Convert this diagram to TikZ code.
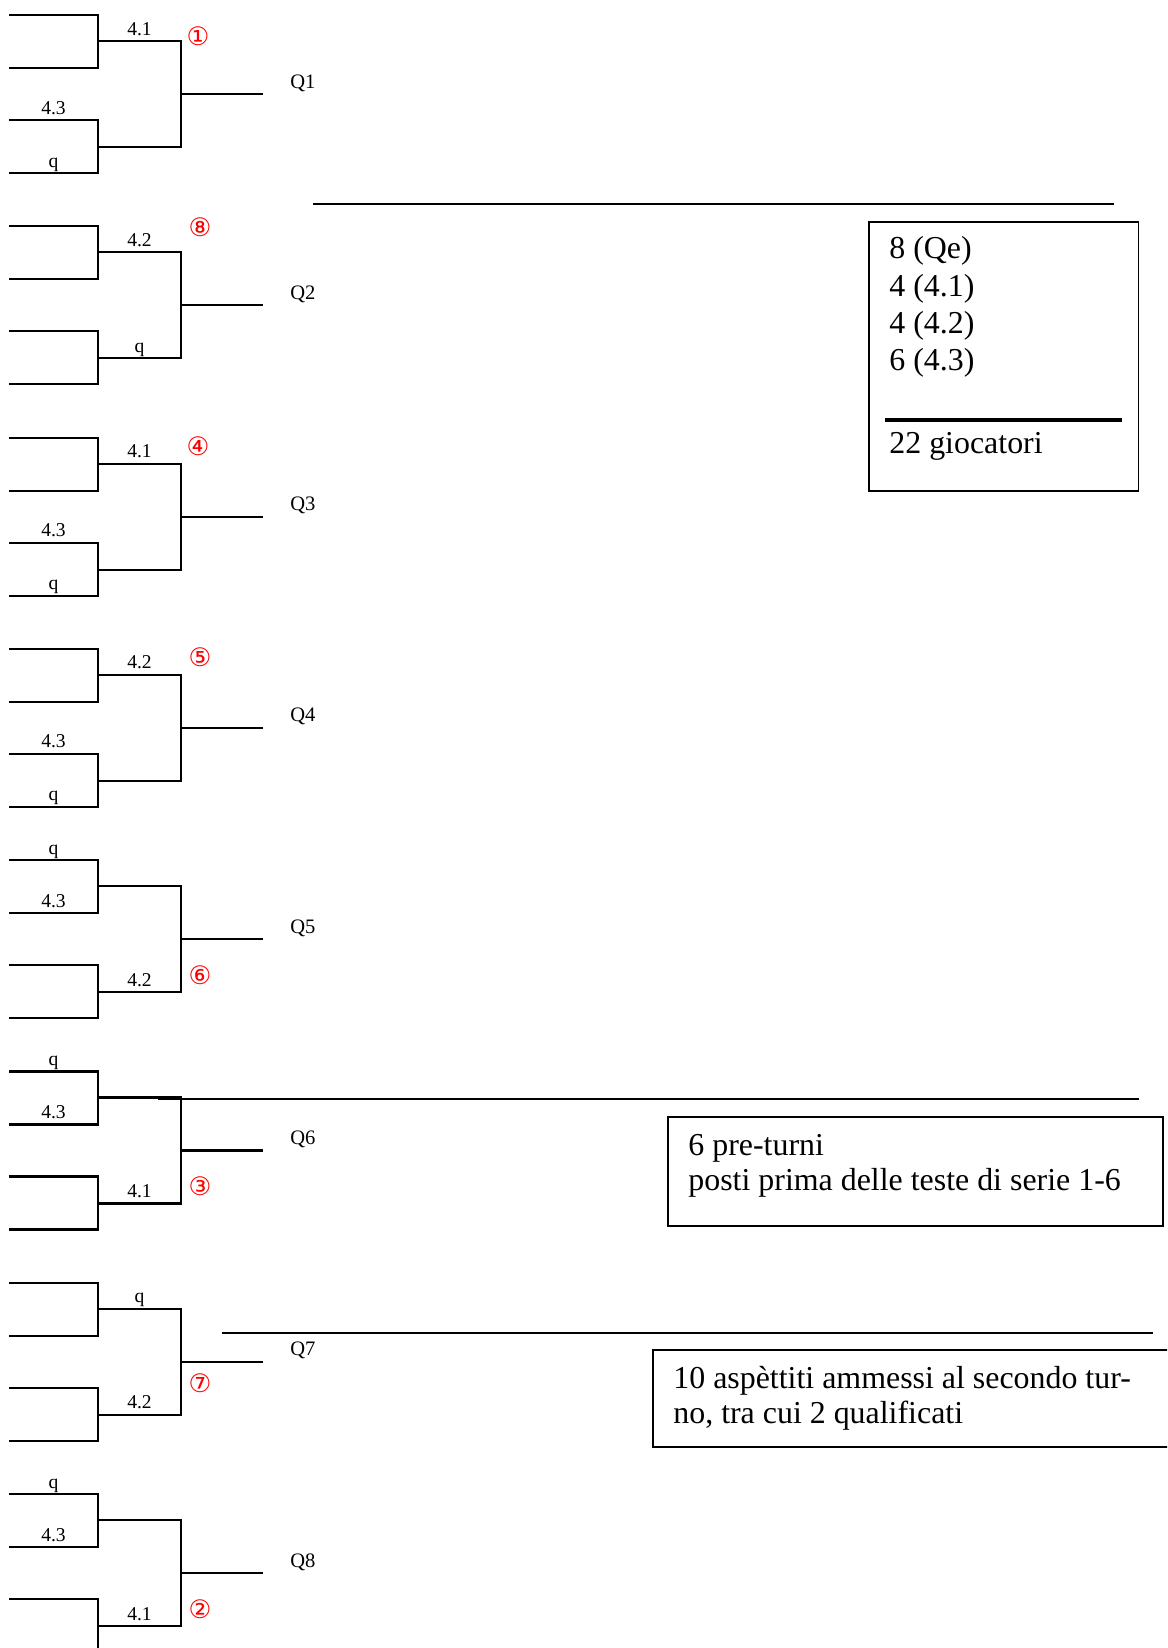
\documentclass[tikz,border=0pt]{standalone}
\usepackage{fontspec}
\setmainfont{Liberation Serif}
\newfontfamily\circfont{DejaVu Sans}
\usetikzlibrary{positioning}

\begin{document}
\begin{tikzpicture}[x=0.5109pt, y=-0.5109pt]
    \tikzstyle{wire}=[line width=1.1pt]
    \tikzstyle{seed}=[font=\fontsize{10}{11}\selectfont, inner sep=0pt, anchor=base]
    \tikzstyle{qual}=[font=\fontsize{10.5}{12}\selectfont, inner sep=0pt, anchor=base west]
    \tikzstyle{seedno}=[font=\circfont\fontsize{13}{14}\selectfont, text=red, inner sep=0pt]
    \tikzstyle{note}=[draw, line width=0.8pt, anchor=north west, inner sep=0pt]
    \tikzstyle{notetext}=[font=\fontsize{16.3}{18.9}\selectfont, inner sep=0pt, anchor=base west]

    \clip (0,0) rectangle (1167,1648);

    \foreach \g [evaluate=\g as \y using 94+(\g-1)*211.3] in {1,...,8} {
        \coordinate (m\g) at (181,\y);
        \draw[wire] (9,{\y-79}) -| (98,{\y-26}) -- (9,{\y-26});
        \draw[wire] (9,{\y+26}) -| (98,{\y+79}) -- (9,{\y+79});
        \draw[wire] (98,{\y-53}) -| (181,{\y+53}) -- (98,{\y+53});
        \draw[wire] (m\g) -- (263,\y);
        \node[qual] (Q\g) at (290,{\y-6}) {Q\g};
        \coordinate (up\g) at (139.5,{\y-59});
        \coordinate (dn\g) at (139.5,{\y+47});
        \coordinate (ea\g) at (53.5,{\y-85});
        \coordinate (eb\g) at (53.5,{\y-32});
        \coordinate (ec\g) at (53.5,{\y+20});
        \coordinate (ed\g) at (53.5,{\y+73});
    }

    \foreach \at/\txt in {up1/4.1, ec1/4.3, ed1/q, up2/4.2, dn2/q, up3/4.1, ec3/4.3, ed3/q,
            up4/4.2, ec4/4.3, ed4/q, ea5/q, eb5/4.3, dn5/4.2, ea6/q, eb6/4.3, dn6/4.1,
            up7/q, dn7/4.2, ea8/q, eb8/4.3, dn8/4.1}
        \node[seed] (lbl-\at) at (\at) {\txt};

    \node[seedno] (n1) at (198,36) {①};
    \node[seedno] (n8) at (200,227) {⑧};
    \node[seedno] (n4) at (198,446) {④};
    \node[seedno] (n5) at (200,657) {⑤};
    \node[seedno] (n6) at (200,975) {⑥};
    \node[seedno] (n3) at (200,1186) {③};
    \node[seedno] (n7) at (200,1383) {⑦};
    \node[seedno] (n2) at (200,1609) {②};

    \draw[wire] (313,204) -- (1114,204);
    \draw[wire] (158,1099) -- (1139,1099);
    \draw[wire] (222,1333) -- (1153,1333);

    \node[note, minimum width=137.9pt, minimum height=137.4pt] (tally) at (868,221) {};
    \node[notetext] (qe) at (889,258) {8 (Qe)};
    \node[notetext] (s41) at (889,296) {4 (4.1)};
    \node[notetext] (s42) at (889,333) {4 (4.2)};
    \node[notetext] (s43) at (889,370) {6 (4.3)};
    \draw[line width=1.7pt] (885,420) -- (1122,420);
    \node[notetext] (total) at (889,453) {22 giocatori};

    \node[note, minimum width=252.9pt, minimum height=55.7pt] (pre) at (667,1116) {};
    \node[notetext] (pre1) at (688,1155) {6 pre-turni};
    \node[notetext] (pre2) at (688,1190) {posti prima delle teste di serie 1-6};

    \node[note, minimum width=275pt, minimum height=49.6pt] (bye) at (652,1349) {};
    \node[notetext] (bye1) at (673,1388) {10 aspèttiti ammessi al secondo tur-};
    \node[notetext] (bye2) at (673,1423) {no, tra cui 2 qualificati};
\end{tikzpicture}
\end{document}
